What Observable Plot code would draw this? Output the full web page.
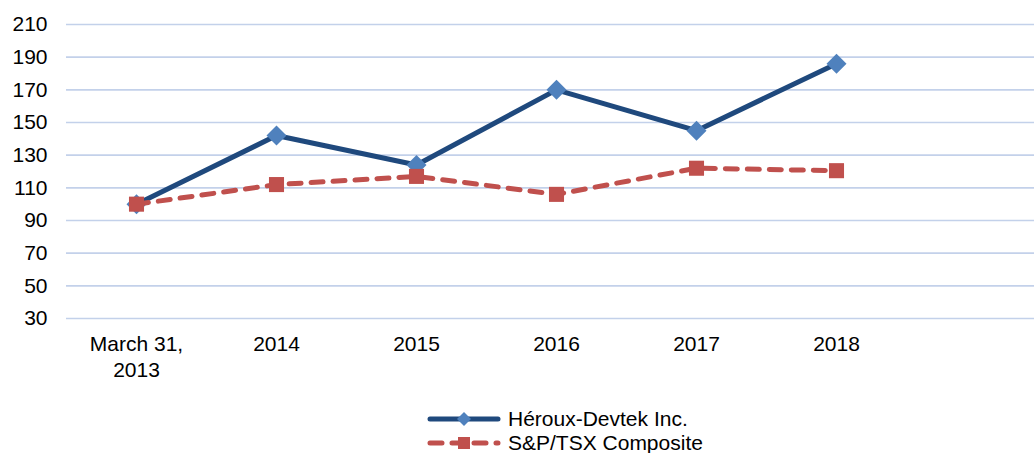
<!DOCTYPE html>
<html>
<head>
<meta charset="utf-8">
<script src="https://cdn.jsdelivr.net/npm/d3@7"></script>
<script src="https://cdn.jsdelivr.net/npm/@observablehq/plot@0.6"></script>
<style>
  html, body { margin: 0; padding: 0; background: #fff; }
  body { width: 1034px; height: 453px; overflow: hidden; font-family: "Liberation Sans", Arial, sans-serif; }
  #legend { margin-top: 17px; padding-left: 427px; font-size: 21px; color: #000; }
  .row { display: flex; align-items: center; height: 24px; }
  .row svg { margin-right: 7px; }
</style>
</head>
<body>
<div id="chart"></div>
<div id="legend"></div>
<script>
const categories = ["March 31,\n2013", "2014", "2015", "2016", "2017", "2018"];
const herouxValues = [100, 142, 124, 170, 145, 186];
const sptsxValues = [100, 112, 117, 106, 122, 120.5];
const yTicks = [30, 50, 70, 90, 110, 130, 150, 170, 190, 210];
const seriesNames = ["Héroux-Devtek Inc.", "S&P/TSX Composite"];

const heroux = categories.map((c, i) => ({cat: c, value: herouxValues[i]}));
const sptsx = categories.map((c, i) => ({cat: c, value: sptsxValues[i]}));

const navy = "#1f497d", blue = "#4f81bd", red = "#c0504d";

const chart = Plot.plot({
  width: 1034,
  height: 390,
  marginLeft: 66,
  marginRight: 0,
  marginTop: 24,
  marginBottom: 72,
  style: {fontFamily: "'Liberation Sans', Arial, sans-serif", fontSize: "21px", color: "#000", background: "white"},
  x: {type: "point", domain: categories, range: [136, 836], padding: 0},
  y: {domain: [30, 210]},
  marks: [
    Plot.gridY(yTicks, {stroke: "#c3d1ea", strokeOpacity: 1, strokeWidth: 1.7}),
    Plot.axisY(yTicks, {tickSize: 0, tickPadding: 19, label: null}),
    Plot.axisX({tickSize: 0, tickPadding: 15, label: null, lineHeight: 1.2}),
    Plot.line(heroux, {x: "cat", y: "value", stroke: navy, strokeWidth: 5, strokeLinejoin: "round"}),
    Plot.dot(heroux, {x: "cat", y: "value", symbol: "diamond2", r: 9, fill: blue}),
    Plot.line(sptsx, {x: "cat", y: "value", stroke: red, strokeWidth: 5, strokeDasharray: "12,10", strokeLinecap: "round"}),
    Plot.dot(sptsx, {x: "cat", y: "value", symbol: "square", r: 8.5, fill: red})
  ]
});
document.getElementById("chart").appendChild(chart);

const legend = document.getElementById("legend");
legend.innerHTML = `
  <div class="row">
    <svg width="74" height="20"><line x1="3" y1="10" x2="71" y2="10" stroke="${navy}" stroke-width="5" stroke-linecap="round"/>
    <path d="M37,3 L44,10 L37,17 L30,10 Z" fill="${blue}"/></svg>
    <span>${seriesNames[0]}</span>
  </div>
  <div class="row">
    <svg width="74" height="20"><line x1="3" y1="10" x2="71" y2="10" stroke="${red}" stroke-width="5" stroke-linecap="round" stroke-dasharray="12,10"/>
    <rect x="31" y="4" width="12" height="12" fill="${red}"/></svg>
    <span>${seriesNames[1]}</span>
  </div>`;
</script>
</body>
</html>
